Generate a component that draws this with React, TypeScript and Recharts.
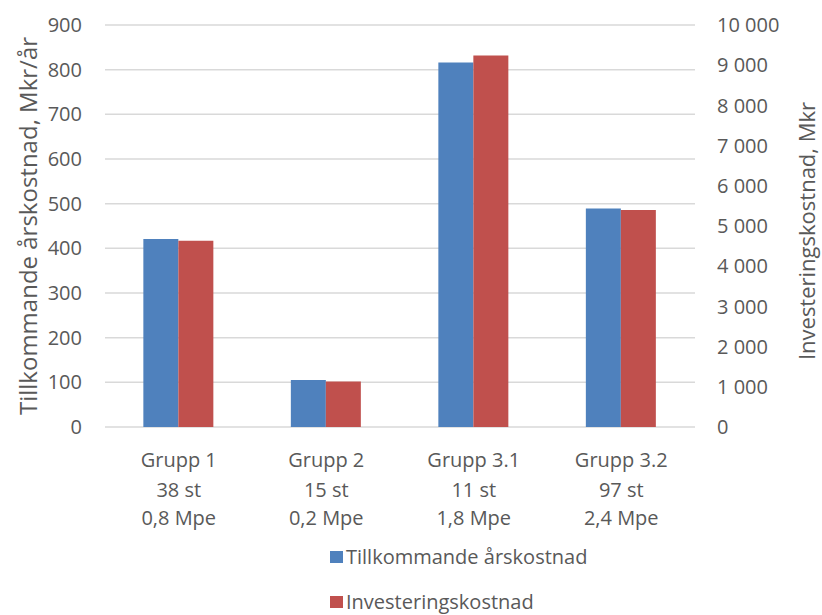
import React from 'react';
import { BarChart, Bar, XAxis, YAxis, CartesianGrid, Legend, Label } from 'recharts';

const categories = ['Grupp 1', 'Grupp 2', 'Grupp 3.1', 'Grupp 3.2'];
const counts = ['38 st', '15 st', '11 st', '97 st'];
const populations = ['0,8 Mpe', '0,2 Mpe', '1,8 Mpe', '2,4 Mpe'];
const annualCost = [421, 105, 816, 489];
const investmentCost = [4630, 1130, 9240, 5400];
const leftTicks = [0, 100, 200, 300, 400, 500, 600, 700, 800, 900];
const rightTicks = [0, 1000, 2000, 3000, 4000, 5000, 6000, 7000, 8000, 9000, 10000];
const seriesNames = ['Tillkommande årskostnad', 'Investeringskostnad'];
const leftTitle = 'Tillkommande årskostnad, Mkr/år';
const rightTitle = 'Investeringskostnad, Mkr';

const BLUE = '#4F81BD';
const RED = '#C0504D';
const TEXT = '#595959';
const GRID = '#D9D9D9';
const FONT = '"Open Sans", sans-serif';

const data = categories.map((c, i) => ({
  name: c,
  annual: annualCost[i],
  invest: investmentCost[i],
}));

const fmtSpace = (v: number) => String(v).replace(/\B(?=(\d{3})+(?!\d))/g, '\u00a0');

const CategoryTick = (props: any) => {
  const { x, y, payload } = props;
  const i = payload.index;
  return (
    <text x={x} y={y} textAnchor="middle" fill={TEXT} fontSize={20} fontFamily={FONT}>
      <tspan x={x} dy={40}>{categories[i]}</tspan>
      <tspan x={x} dy={30}>{counts[i]}</tspan>
      <tspan x={x} dy={28}>{populations[i]}</tspan>
    </text>
  );
};

const LeftTitle = (props: any) => {
  const vb = props.viewBox || { y: 25, height: 402 };
  const cx = 27;
  const cy = vb.y + vb.height / 2;
  return (
    <text x={cx} y={cy} transform={`rotate(-90 ${cx} ${cy})`} textAnchor="middle" dominantBaseline="central" fill={TEXT} fontSize={24} fontFamily={FONT}>
      {leftTitle}
    </text>
  );
};

const RightTitle = (props: any) => {
  const vb = props.viewBox || { y: 25, height: 402 };
  const cx = 806;
  const cy = vb.y + vb.height / 2 + 5;
  return (
    <text x={cx} y={cy} transform={`rotate(-90 ${cx} ${cy})`} textAnchor="middle" dominantBaseline="central" fill={TEXT} fontSize={22} fontFamily={FONT}>
      {rightTitle}
    </text>
  );
};

const LegendContent = () => (
  <div style={{ fontFamily: FONT, fontSize: 20, color: TEXT }}>
    {seriesNames.map((n, i) => (
      <div key={n} style={{ display: 'flex', alignItems: 'center', height: 45, whiteSpace: 'nowrap' }}>
        <span style={{ display: 'inline-block', width: 13, height: 12, background: i === 0 ? BLUE : RED, marginRight: 3 }} />
        <span>{n}</span>
      </div>
    ))}
  </div>
);

export default function App() {
  return (
    <div style={{ position: 'absolute', left: 0, top: 0, width: 822, height: 615, background: '#fff' }}>
      <BarChart
        width={822}
        height={615}
        data={data}
        margin={{ top: 25, right: 0, bottom: 0, left: 0 }}
        barCategoryGap="26%"
        barGap={0}
      >
        <CartesianGrid yAxisId="left" vertical={false} stroke={GRID} strokeWidth={1.5} />
        <XAxis
          dataKey="name"
          height={188}
          axisLine={false}
          tickLine={false}
          tickSize={0}
          tickMargin={0}
          interval={0}
          tick={<CategoryTick />}
        />
        <YAxis
          yAxisId="left"
          orientation="left"
          width={105}
          domain={[0, 900]}
          ticks={leftTicks}
          axisLine={false}
          tickLine={false}
          tickSize={0}
          tickMargin={23}
          tick={{ fill: TEXT, fontSize: 20, fontFamily: FONT }}
        >
          <Label content={<LeftTitle />} />
        </YAxis>
        <YAxis
          yAxisId="right"
          orientation="right"
          width={127}
          domain={[0, 10000]}
          ticks={rightTicks}
          axisLine={false}
          tickLine={false}
          tickSize={0}
          tickMargin={22}
          tickFormatter={fmtSpace}
          tick={{ fill: TEXT, fontSize: 20, fontFamily: FONT, textAnchor: 'start' }}
        >
          <Label content={<RightTitle />} />
        </YAxis>
        <Legend
          layout="vertical"
          align="center"
          verticalAlign="middle"
          wrapperStyle={{ position: 'absolute', left: 330, top: 534, width: 320, height: 80 }}
          content={<LegendContent />}
        />
        <Bar yAxisId="left" dataKey="annual" name={seriesNames[0]} fill={BLUE} isAnimationActive={false} />
        <Bar yAxisId="right" dataKey="invest" name={seriesNames[1]} fill={RED} isAnimationActive={false} />
      </BarChart>
    </div>
  );
}
